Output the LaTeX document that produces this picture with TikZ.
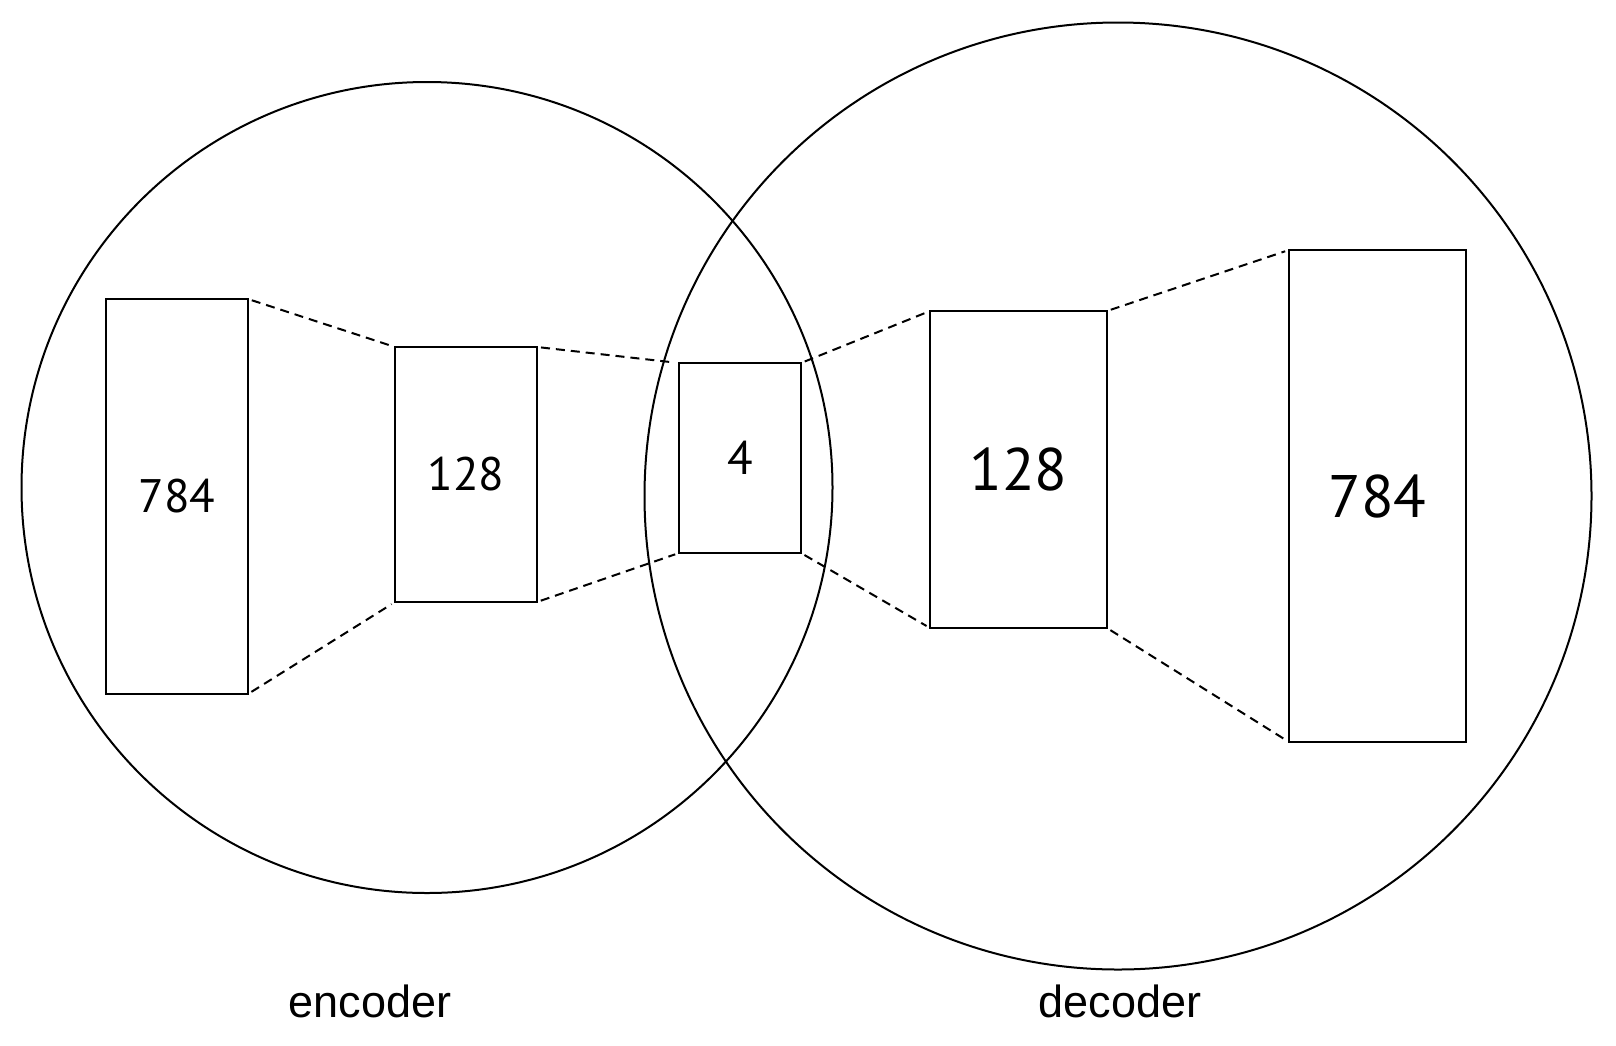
\documentclass[tikz,border=0pt]{standalone}
\usepackage{fontspec}
\setmainfont{Liberation Sans}
\newfontfamily\numfont{PT Sans}
\tikzset{
  ring/.style={draw, circle, line width=1pt, inner sep=0pt, outer sep=0pt},
  layer/.style={draw, rectangle, line width=1pt, inner sep=0pt, outer sep=0pt, font=\numfont\fontsize{23.5pt}{24pt}\selectfont},
  biglayer/.style={layer, font=\numfont\fontsize{30pt}{31pt}\selectfont},
  link/.style={line width=1pt, dash pattern=on 4.5pt off 3pt, shorten >=2pt, shorten <=2pt},
  caption/.style={anchor=base, inner sep=0pt, font=\fontsize{22.5pt}{24pt}\selectfont}
}
\begin{document}
\begin{tikzpicture}[x=0.5pt,y=-0.5pt]
\useasboundingbox[fill=white] (0,0) rectangle (1616,1045);
\node[ring, minimum size=405.5pt] (enc) at (427,487.5) {};
\node[ring, minimum size=473.5pt] (dec) at (1118,496) {};
\node[layer, minimum width=71pt, minimum height=197.5pt] (a) at (177,496.5) {784};
\node[layer, minimum width=71pt, minimum height=127.5pt] (b) at (466,474.5) {128};
\node[layer, minimum width=61pt, minimum height=95pt] (c) at (740,458) {4};
\node[biglayer, minimum width=88.5pt, minimum height=158.5pt] (d) at (1018.5,469.5) {128};
\node[biglayer, minimum width=88.5pt, minimum height=246pt] (e) at (1377.5,496) {784};
\draw[link] (a.north east) -- (b.north west);
\draw[link] (a.south east) -- (b.south west);
\draw[link] (b.north east) -- (c.north west);
\draw[link] (b.south east) -- (c.south west);
\draw[link] (c.north east) -- (d.north west);
\draw[link] (c.south east) -- (d.south west);
\draw[link] (d.north east) -- (e.north west);
\draw[link] (d.south east) -- (e.south west);
\node[caption] (enclabel) at (370,1017) {encoder};
\node[caption] (declabel) at (1120,1017) {decoder};
\end{tikzpicture}
\end{document}
